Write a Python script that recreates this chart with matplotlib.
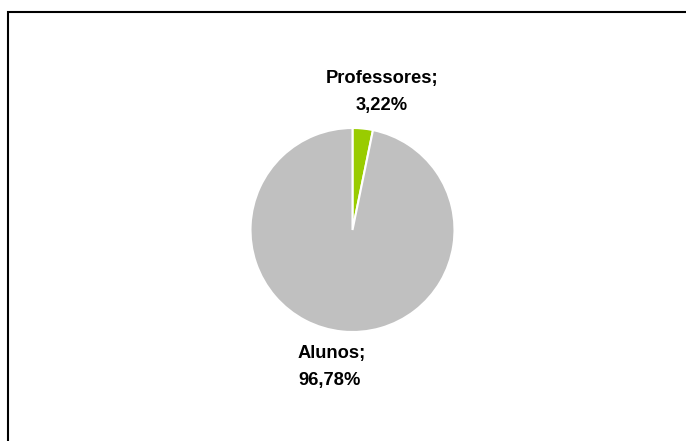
import matplotlib
matplotlib.use("Agg")
import matplotlib.pyplot as plt
from matplotlib.patches import Rectangle

# Data
categories = ["Professores", "Alunos"]
shares = [3.22, 96.78]
colors = ["#99CC00", "#C0C0C0"]

W, H = 686, 441
fig = plt.figure(figsize=(W / 100, H / 100), dpi=100)
ax = fig.add_axes([0, 0, 1, 1])

# Chart area frame (open to the right and bottom)
ax.add_patch(Rectangle((7.5, -20), W + 20, H - 11.5 + 20, fill=False,
                       edgecolor="black", linewidth=1.5))

ax.pie(shares, colors=colors, startangle=90, counterclock=False,
       center=(352.5, 211), radius=102, frame=True,
       wedgeprops=dict(edgecolor="white", linewidth=1.5))
ax.set_xlim(0, W)
ax.set_ylim(0, H)
ax.set_aspect("equal")
ax.axis("off")


def fmt(name, v):
    return f"{name};\n{v:.2f}%".replace(".", ",")


font = dict(family=["Liberation Sans", "DejaVu Sans"], fontsize=13.2,
            fontweight="bold", color="black")
ax.text(382, 349, fmt(categories[0], shares[0]), ha="center", va="center",
        linespacing=1.82, **font)
ax.text(298, 74, fmt(categories[1], shares[1]), ha="left", va="center",
        linespacing=1.82, **font)

fig.savefig("out.png", dpi=100)
